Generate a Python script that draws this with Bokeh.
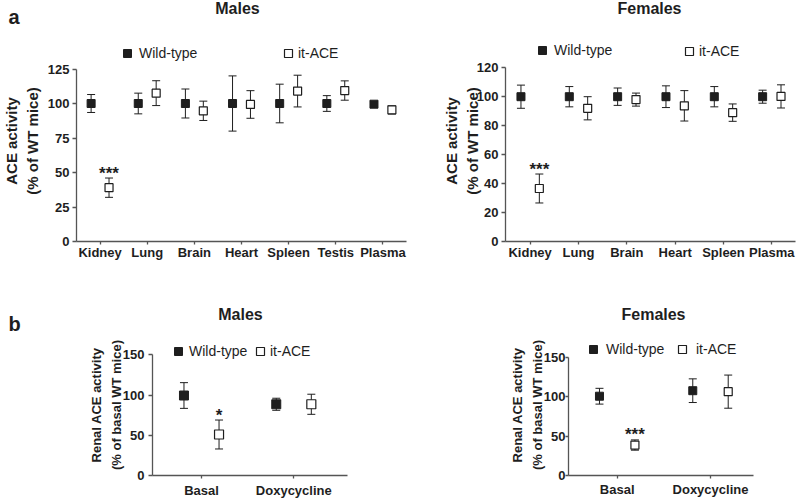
import numpy as np
from bokeh.plotting import figure
from bokeh.models import (ColumnDataSource, Whisker, TeeHead, Legend, LegendItem,
                          Label, FixedTicker, Range1d)
from bokeh.layouts import column, row
from bokeh.embed import file_html
from bokeh.resources import INLINE
from bokeh.core.properties import value

FONT = "Liberation Sans"
INK = "#1e1e1e"
AXIS = "#555555"

# ---------------- data ----------------
tissues_m = ["Kidney", "Lung", "Brain", "Heart", "Spleen", "Testis", "Plasma"]
wt_m_mean = [100, 100, 100, 100, 100, 100, 99.5]
wt_m_err = [6.5, 7.5, 10.5, 20, 14, 5.7, 2]
it_m_mean = [39, 107.5, 94.7, 99.3, 109, 109.4, 95.4]
it_m_err = [7, 9, 7, 10, 11.5, 7, 3]
sig_m = ["***", "", "", "", "", "", ""]
yticks_m = [0, 25, 50, 75, 100, 125]

tissues_f = ["Kidney", "Lung", "Brain", "Heart", "Spleen", "Plasma"]
wt_f_mean = [100, 100, 100, 100, 100, 100]
wt_f_err = [8, 7, 6, 7.5, 7, 4.5]
it_f_mean = [36.6, 92, 98, 93.7, 89, 100.2]
it_f_err = [10, 8, 4.5, 10.5, 6, 8]
sig_f = ["***", "", "", "", "", ""]
yticks_f = [0, 20, 40, 60, 80, 100, 120]

treatments = ["Basal", "Doxycycline"]
wt_bm_mean = [99.5, 88.6]
wt_bm_err = [16, 7.5]
it_bm_mean = [51, 88.6]
it_bm_err = [18, 12.5]
sig_bm = ["*", ""]

wt_bf_mean = [100.5, 107.5]
wt_bf_err = [10, 15]
it_bf_mean = [38.6, 106.3]
it_bf_err = [6.5, 21]
sig_bf = ["***", ""]
yticks_b = [0, 50, 100, 150]

series_names = ["Wild-type", "it-ACE"]
panel_titles = ["Males", "Females"]
panel_letters = ["a", "b"]
ylabel_a = "ACE activity\n(% of WT mice)"
ylabel_b = "Renal ACE activity\n(% of basal WT mice)"


def header(height, items):
    h = figure(width=800, height=height, x_range=Range1d(0, 800),
               y_range=Range1d(0, height), x_axis_type=None, y_axis_type=None,
               output_backend="svg", toolbar_location=None, min_border=0)
    h.outline_line_color = None
    h.xgrid.visible = False
    h.ygrid.visible = False
    for text, x, y, size, align in items:
        h.add_layout(Label(x=x, y=y, text=text, text_font=FONT,
                           text_font_size=size, text_font_style="bold",
                           text_color=INK, text_align=align,
                           text_baseline="alphabetic"))
    return h


def build(cats, wt_mean, wt_err, it_mean, it_err, sig, yticks, *, width, height,
          mbl, mbr, mbb, x_range, y_top, ylabel, ylab_standoff, y_lab_so=3,
          y_tick_out=4, ylab_size="15px", ylab_lh=1.2,
          leg_wt=(0, 0, 1), leg_it=(0, 0, 1), offset=0.19,
          msize=8, x_standoff=0):
    p = figure(width=width, height=height, x_range=Range1d(*x_range),
               y_range=Range1d(0, y_top), output_backend="svg",
               toolbar_location=None, min_border=0)
    p.min_border_left = mbl
    p.min_border_right = mbr
    p.min_border_top = 0
    p.min_border_bottom = mbb
    p.outline_line_color = None
    p.xgrid.visible = False
    p.ygrid.visible = False

    idx = np.arange(len(cats))
    wt_src = ColumnDataSource(dict(x=idx - offset, y=wt_mean,
                                   upper=np.add(wt_mean, wt_err),
                                   lower=np.subtract(wt_mean, wt_err)))
    it_src = ColumnDataSource(dict(x=idx + offset, y=it_mean,
                                   upper=np.add(it_mean, it_err),
                                   lower=np.subtract(it_mean, it_err), sig=sig))
    for src in (wt_src, it_src):
        w = Whisker(source=src, base="x", upper="upper", lower="lower",
                    dimension="height", line_color=INK, line_width=1,
                    upper_head=TeeHead(size=8, line_color=INK, line_width=1),
                    lower_head=TeeHead(size=8, line_color=INK, line_width=1),
                    level="underlay")
        p.add_layout(w)
    r_wt = p.scatter("x", "y", source=wt_src, marker="square", size=msize,
                     fill_color=INK, line_color=INK)
    r_it = p.scatter("x", "y", source=it_src, marker="square", size=msize,
                     fill_color="white", line_color=INK, line_width=1.2)
    p.text(x="x", y="upper", text="sig", source=it_src,
           text_font=value(FONT), text_font_style="bold", text_font_size="17px",
           text_color=INK, text_align="center", text_baseline="alphabetic",
           y_offset=-5)

    for ax in (p.xaxis[0], p.yaxis[0]):
        ax.axis_line_color = AXIS
        ax.axis_line_width = 1.3
        ax.major_tick_line_color = AXIS
        ax.major_tick_line_width = 1.3
        ax.minor_tick_line_color = None
        ax.major_tick_in = 0
        ax.major_label_text_font = FONT
        ax.major_label_text_font_size = "13px"
        ax.major_label_text_font_style = "bold"
        ax.major_label_text_color = INK
    p.xaxis.major_tick_out = 3
    p.xaxis.major_label_standoff = x_standoff
    p.yaxis.major_tick_out = y_tick_out
    p.yaxis.major_label_standoff = y_lab_so
    p.xaxis.ticker = FixedTicker(ticks=[int(i) for i in idx])
    p.xaxis.major_label_overrides = {int(i): c for i, c in enumerate(cats)}
    p.yaxis.ticker = FixedTicker(ticks=yticks)
    p.yaxis.bounds = (yticks[0], yticks[-1])
    p.yaxis.axis_label = ylabel
    p.yaxis.axis_label_text_font = FONT
    p.yaxis.axis_label_text_font_size = ylab_size
    p.yaxis.axis_label_text_line_height = ylab_lh
    p.yaxis.axis_label_text_font_style = "bold"
    p.yaxis.axis_label_text_color = INK
    p.yaxis.axis_label_standoff = ylab_standoff

    for (lx, ly, ls), name, r in ((leg_wt, series_names[0], r_wt),
                                  (leg_it, series_names[1], r_it)):
        leg = Legend(items=[LegendItem(label=name, renderers=[r])],
                     location=(lx, ly), orientation="horizontal",
                     glyph_width=20, glyph_height=20, label_standoff=ls,
                     padding=0, margin=0, border_line_color=None,
                     background_fill_alpha=0, label_text_font=FONT,
                     label_text_font_size="14px", label_text_color=INK)
        p.add_layout(leg)
    return p


# header rows: panel letter and panel titles (pixel-like coordinates)
head_a = header(40, [(panel_letters[0], 8, 24, "20px", "left"),
                     (panel_titles[0], 237, 32, "16px", "center"),
                     (panel_titles[1], 649, 32, "16px", "center")])
head_b = header(44, [(panel_letters[1], 8, 11, "20px", "left"),
                     (panel_titles[0], 240, 20.3, "16px", "center"),
                     (panel_titles[1], 653, 20.3, "16px", "center")])

p1 = build(tissues_m, wt_m_mean, wt_m_err, it_m_mean, it_m_err, sig_m, yticks_m,
           width=410, height=250, mbl=72, mbr=4, mbb=49,
           x_range=(-0.5, 6.5), y_top=201 / 1.38,
           ylabel=ylabel_a, ylab_standoff=4,
           leg_wt=(41, 178, 2), leg_it=(202, 178, 0))

p2 = build(tissues_f, wt_f_mean, wt_f_err, it_f_mean, it_f_err, sig_f, yticks_f,
           width=390, height=250, mbl=95, mbr=5, mbb=49,
           x_range=(-0.51, 5.49), y_top=201 / 1.448,
           ylabel=ylabel_a, ylab_standoff=-7,
           leg_wt=(27, 181, 2), leg_it=(174, 180, 0))

p3 = build(treatments, wt_bm_mean, wt_bm_err, it_bm_mean, it_bm_err, sig_bm, yticks_b,
           width=410, height=166, mbl=152, mbr=63, mbb=23,
           x_range=(-0.531, 1.582), y_top=143 / 0.8153,
           ylabel=ylabel_b, ylab_standoff=-4, y_lab_so=4,
           ylab_size="13px", ylab_lh=1.3,
           leg_wt=(16, 114, 1), leg_it=(98, 114, 0), msize=9, x_standoff=4)

p4 = build(treatments, wt_bf_mean, wt_bf_err, it_bf_mean, it_bf_err, sig_bf, yticks_b,
           width=390, height=166, mbl=158, mbr=47, mbb=21,
           x_range=(-0.522, 1.461), y_top=145 / 0.8113,
           ylabel=ylabel_b, ylab_standoff=-4, y_lab_so=0, y_tick_out=3,
           ylab_size="13px", ylab_lh=1.3,
           leg_wt=(15, 116, 3), leg_it=(104, 116, 4), x_standoff=3)

layout = column(head_a, row(p1, p2), head_b, row(p3, p4))

with open("out.html", "w") as f:
    f.write(file_html(layout, INLINE))
